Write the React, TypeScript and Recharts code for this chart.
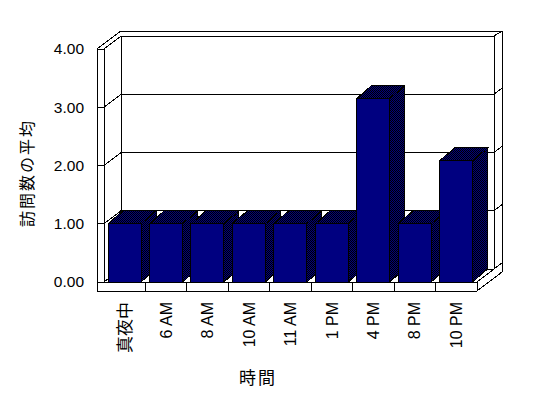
import React from 'react';
import { BarChart, Bar, XAxis, YAxis, CartesianGrid, Label } from 'recharts';

const hours = ['真夜中', '6 AM', '8 AM', '10 AM', '11 AM', '1 PM', '4 PM', '8 PM', '10 PM'];
const visits = [1, 1, 1, 1, 1, 1, 3.15, 1, 2.08];
const valueTicks = [0, 1, 2, 3, 4];

const data = hours.map((hour, i) => ({ hour, visits: visits[i] }));

// layout of the "3D" box, Excel style
const W = 548;
const H = 398;
const TOP = 49;
const BOTTOM = 282;
const LEFT = 104;
const RIGHT = 477;
const DX = 17; // depth of the box
const DY = -13;
const WALL = 7; // wall thickness
const FLOOR = 9;
const NAVY = '#000080';
const FONT = '"Liberation Sans", "Noto Sans CJK JP", sans-serif';
const CJK = '"Noto Sans CJK JP", sans-serif';

const ln = (x1: number, y1: number, x2: number, y2: number) => (
  <line x1={x1} y1={y1} x2={x2} y2={y2} />
);

// each gridline: tick on the left wall, diagonal across it, line on the back wall
const GridLine = (props: any) => {
  const { x1, x2, y1: y } = props;
  const isTop = Math.abs(y - TOP) < 1;
  const isBottom = Math.abs(y - BOTTOM) < 1;
  const bx = x2 + DX;
  return (
    <g key={props.key} stroke="#000" strokeWidth={1} fill="none" shapeRendering="crispEdges">
      {ln(x1 - WALL, y, x1, y)}
      {ln(x1, y, x1 + DX, y + DY)}
      {ln(x1 + DX, y + DY, bx, y + DY)}
      {!isTop && ln(bx, y + DY, bx + 8, y + DY - 6)}
      {isTop && (
        <g>
          {ln(x1 - WALL, y, x1 - WALL, BOTTOM + FLOOR)}
          {ln(x1, y, x1, BOTTOM)}
          {ln(x1 + DX, y + DY, x1 + DX, BOTTOM + DY)}
          {ln(x1 - WALL, y, x1 + DX, y + DY - 5)}
          {ln(x1 + DX, y + DY - 5, bx + 8, y + DY - 5)}
          {ln(bx, y + DY, bx + 8, y + DY - 5)}
          {ln(bx, y + DY, bx, BOTTOM + DY)}
          {ln(bx + 8, y + DY - 5, bx + 8, BOTTOM + DY + 3)}
        </g>
      )}
      {isBottom && (
        <g>
          {ln(x1, y, x2, y)}
          {ln(x1 - WALL, y + FLOOR, x2, y + FLOOR)}
          {ln(x2, y, x2, y + FLOOR)}
          {ln(x2, y, bx, y + DY)}
          {ln(x2, y + FLOOR, bx + 8, y + DY + 3)}
        </g>
      )}
    </g>
  );
};

const Bar3D = (props: any) => {
  const { x, y, width, height } = props;
  const dx = 15;
  const dy = -13;
  const r = x + width;
  const b = y + height;
  return (
    <g shapeRendering="crispEdges" stroke="#000" strokeWidth={1}>
      <defs>
        <pattern id="dither" width="2" height="2" patternUnits="userSpaceOnUse">
          <rect width="2" height="2" fill={NAVY} stroke="none" />
          <rect width="1" height="1" fill="#000" stroke="none" />
          <rect x="1" y="1" width="1" height="1" fill="#000" stroke="none" />
        </pattern>
      </defs>
      <polygon
        points={`${r},${y} ${r + dx},${y + dy} ${r + dx},${b + dy} ${r},${b}`}
        fill="url(#dither) #000040"
      />
      <polygon
        points={`${x},${y} ${x + dx},${y + dy} ${r + dx},${y + dy} ${r},${y}`}
        fill="url(#dither) #000040"
      />
      <line x1={r} y1={y} x2={r + dx - 3} y2={y + dy + 3} />
      <rect x={x} y={y} width={width} height={height} fill={NAVY} />
    </g>
  );
};

const HourTick = (props: any) => {
  const { x, payload, index } = props;
  const band = (RIGHT - LEFT) / hours.length;
  const isCjk = /[^\x00-\x7f]/.test(String(payload.value));
  return (
    <g>
      {index < hours.length - 1 && (
        <line
          x1={x + band / 2}
          y1={BOTTOM}
          x2={x + band / 2}
          y2={BOTTOM + FLOOR}
          stroke="#000"
          shapeRendering="crispEdges"
        />
      )}
      <text
        transform={`translate(${x},302) rotate(-90)`}
        textAnchor="end"
        dy="0.35em"
        fontSize={isCjk ? 17 : 16}
        fontFamily={isCjk ? CJK : FONT}
        fill="#000"
      >
        {payload.value}
      </text>
    </g>
  );
};

const ValueTick = (props: any) => {
  const { y, payload } = props;
  return (
    <text x={84} y={y} dy="0.35em" textAnchor="end" fontSize={15.5} fontFamily={FONT} fill="#000">
      {Number(payload.value).toFixed(2)}
    </text>
  );
};

const App: React.FC = () => {
  return (
    <div style={{ position: 'absolute', left: 0, top: 0, width: W, height: H, background: '#fff' }}>
      <BarChart
        width={W}
        height={H}
        data={data}
        margin={{ top: TOP, right: W - RIGHT, bottom: 0, left: 0 }}
        barSize={33}
      >
        <CartesianGrid vertical={false} horizontal={GridLine} />
        <XAxis
          dataKey="hour"
          interval={0}
          height={H - BOTTOM}
          axisLine={false}
          tickLine={false}
          tick={HourTick}
        >
          <Label
            content={() => (
              <text x={258} y={378} dy="0.35em" textAnchor="middle" fontSize={17} letterSpacing={2} fontFamily={CJK} fill="#000">
                時間
              </text>
            )}
          />
        </XAxis>
        <YAxis
          width={LEFT}
          domain={[0, 4]}
          ticks={valueTicks}
          axisLine={false}
          tickLine={false}
          tick={ValueTick}
        >
          <Label
            content={() => (
              <text
                transform="translate(27,173) rotate(-90)"
                dy="0.35em"
                textAnchor="middle"
                fontSize={16}
                letterSpacing={2}
                fontFamily={CJK}
                fill="#000"
              >
                訪問数の平均
              </text>
            )}
          />
        </YAxis>
        <Bar dataKey="visits" shape={Bar3D} isAnimationActive={false} />
      </BarChart>
    </div>
  );
};

export default App;
